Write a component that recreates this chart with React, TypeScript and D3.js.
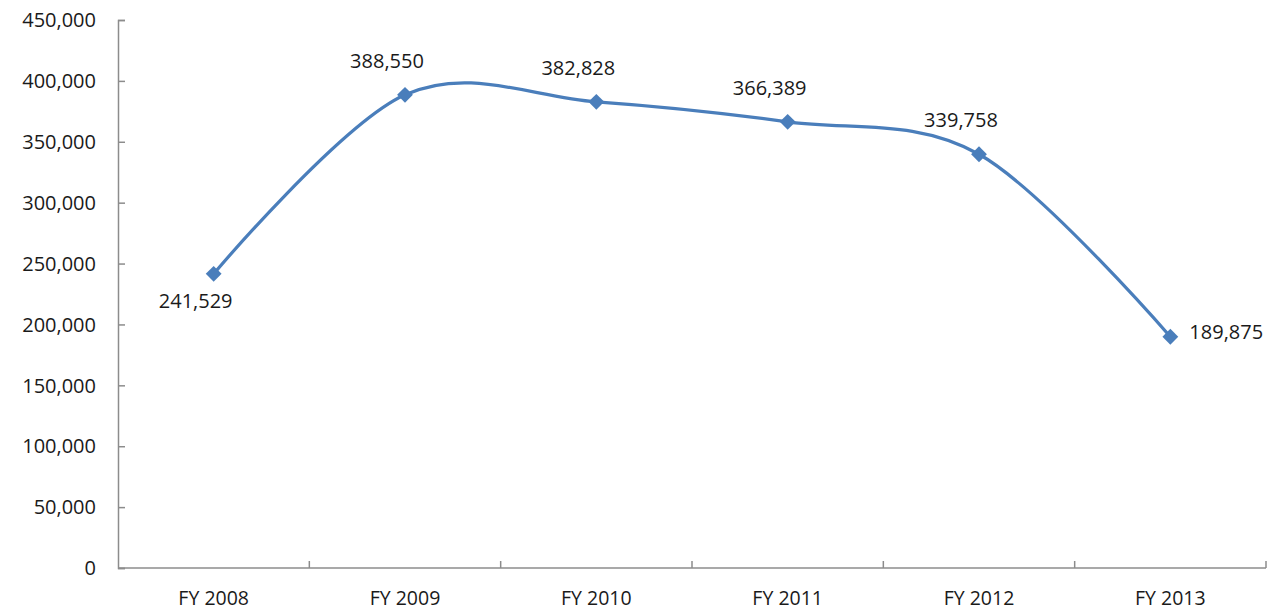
import React, { useEffect, useRef } from "react";
import * as d3 from "d3";

const categories = ["FY 2008", "FY 2009", "FY 2010", "FY 2011", "FY 2012", "FY 2013"];
const values = [241529, 388550, 382828, 366389, 339758, 189875];
const yTicks = [0, 50000, 100000, 150000, 200000, 250000, 300000, 350000, 400000, 450000];
// where each data label sits relative to its point
const labelPos = ["below", "above", "above", "above", "above", "right"];

const width = 1272;
const height = 611;
const margin = { top: 20, right: 6, bottom: 43, left: 118 };
const blue = "#4a7ebb";
const axisGray = "#8c8c8c";
const font = "'Open Sans', sans-serif";

const App = () => {
  const ref = useRef<SVGSVGElement>(null);

  useEffect(() => {
    const svg = d3.select(ref.current);
    svg.selectAll("*").remove();

    const x = d3.scaleBand()
      .domain(categories)
      .range([margin.left, width - margin.right]);

    const y = d3.scaleLinear()
      .domain([0, 450000])
      .range([height - margin.bottom, margin.top]);

    const fmt = d3.format(",");

    // y axis, ticks pointing inward
    const yAxis = svg.append("g")
      .attr("transform", `translate(${margin.left},0)`)
      .call(d3.axisRight(y).tickValues(yTicks).tickSize(7).tickFormat(() => ""));
    yAxis.select(".domain").attr("stroke", axisGray).attr("stroke-width", 1.5);
    yAxis.selectAll(".tick line").attr("stroke", axisGray).attr("stroke-width", 1.5);

    svg.append("g")
      .selectAll("text")
      .data(yTicks)
      .enter().append("text")
      .attr("x", margin.left - 22)
      .attr("y", d => y(d))
      .attr("dy", "0.36em")
      .attr("text-anchor", "end")
      .attr("font-family", font)
      .attr("font-size", 20)
      .attr("fill", "#1a1a1a")
      .text(d => fmt(d));

    // x axis, boundary ticks pointing up
    const xAxis = svg.append("g")
      .attr("transform", `translate(0,${y(0)})`);
    xAxis.append("line")
      .attr("x1", margin.left)
      .attr("x2", width - margin.right)
      .attr("stroke", axisGray)
      .attr("stroke-width", 1.5);
    xAxis.selectAll("line.tick")
      .data(categories)
      .enter().append("line")
      .attr("class", "tick")
      .attr("x1", d => (x(d) as number) + x.bandwidth())
      .attr("x2", d => (x(d) as number) + x.bandwidth())
      .attr("y1", 0)
      .attr("y2", -7)
      .attr("stroke", axisGray)
      .attr("stroke-width", 1.5);
    xAxis.selectAll("text")
      .data(categories)
      .enter().append("text")
      .attr("x", d => (x(d) as number) + x.bandwidth() / 2)
      .attr("y", 30)
      .attr("dy", "0.36em")
      .attr("text-anchor", "middle")
      .attr("font-family", font)
      .attr("font-size", 19.5)
      .attr("fill", "#1a1a1a")
      .text(d => d);

    const cx = (i: number) => (x(categories[i]) as number) + x.bandwidth() / 2;

    const line = d3.line<number>()
      .x((_, i) => cx(i))
      .y(d => y(d))
      .curve(d3.curveCardinal.tension(0));

    svg.append("path")
      .datum(values)
      .attr("d", line)
      .attr("fill", "none")
      .attr("stroke", blue)
      .attr("stroke-width", 3.2);

    svg.append("g")
      .selectAll("path")
      .data(values)
      .enter().append("path")
      .attr("d", d3.symbol(d3.symbolSquare, 125)())
      .attr("transform", (d, i) => `translate(${cx(i)},${y(d)}) rotate(45)`)
      .attr("fill", blue);

    svg.append("g")
      .selectAll("text")
      .data(values)
      .enter().append("text")
      .attr("x", (d, i) => labelPos[i] === "right" ? cx(i) + 19 : cx(i) - 18)
      .attr("y", (d, i) =>
        labelPos[i] === "above" ? y(d) - 34 : labelPos[i] === "below" ? y(d) + 27 : y(d) - 5)
      .attr("dy", "0.36em")
      .attr("text-anchor", (d, i) => labelPos[i] === "right" ? "start" : "middle")
      .attr("font-family", font)
      .attr("font-size", 20)
      .attr("fill", "#1a1a1a")
      .text(d => fmt(d));
  }, []);

  return (
    <svg
      ref={ref}
      width={width}
      height={height}
      style={{ position: "absolute", left: 0, top: 0, background: "#fff" }}
    />
  );
};

export default App;
